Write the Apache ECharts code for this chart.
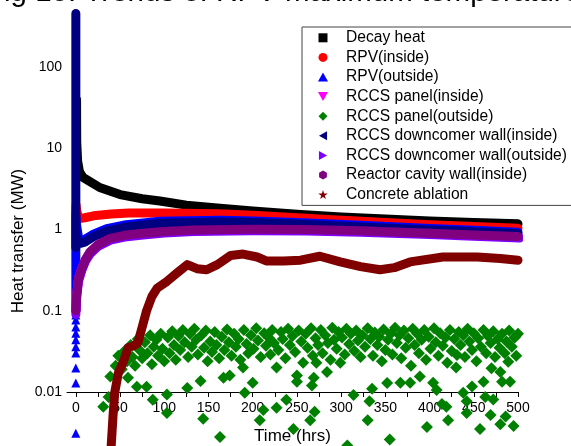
<!DOCTYPE html>
<html>
<head>
<meta charset="utf-8">
<script src="https://cdn.jsdelivr.net/npm/echarts@6/dist/echarts.min.js"></script>
<style>
  html, body { margin: 0; padding: 0; background: #fff; }
  #main { width: 571px; height: 446px; }
</style>
</head>
<body>
<div id="main"></div>
<script>
// [time (hrs), heat transfer (MW)]
let decayHeat = [[0.8,40],[1,12],[2,7],[4,5.2],[8,4.4],[16,3.9],[27,3.3],[50,2.7],[75,2.4],[95,2.25],[125,2.0],[163,1.83],[200,1.7],[250,1.55],[300,1.43],[350,1.35],[400,1.28],[450,1.22],[500,1.18]];
let rpvInside = [[0,1.6],[0.3,2.0],[1,1.7],[3,1.4],[6,1.38],[10,1.4],[20,1.48],[40,1.56],[60,1.6],[100,1.6],[160,1.57],[200,1.5],[250,1.4],[300,1.3],[350,1.22],[400,1.15],[450,1.09],[500,1.04]];
let rpvOutside = [[0,0.1],[0,1.5],[1,1.1],[3,0.8],[6,0.74],[10,0.76],[20,0.88],[35,1.03],[57,1.15],[95,1.27],[163,1.3],[200,1.28],[250,1.22],[322,1.13],[400,1.03],[450,0.98],[500,0.93]];
let rpvOutsideLow = [[0,0.0031],[0,0.0129],[0,0.0197],[0,0.0302],[0,0.036],[0,0.044],[0,0.053],[0,0.063],[0,0.077],[0,0.089]];
let panelInside = [[0,0.1],[1,0.16],[3,0.25],[7,0.34],[11,0.43],[16,0.53],[25,0.65],[39,0.78],[55,0.85],[76,0.9],[100,0.95],[133,0.99],[200,1.01],[260,1.0],[322,0.97],[400,0.9],[450,0.86],[500,0.82]];
let panelOutside = [[31,0.0066],[37,0.0087],[39,0.0155],[45,0.021],[48,0.028],[52,0.019],[55,0.032],[58,0.024],[59,0.015],[62,0.038],[64,0.027],[67,0.021],[69,0.0116],[70,0.045],[72,0.033],[75,0.026],[78,0.041],[80,0.0116],[81,0.03],[84,0.05],[86,0.022],[87,0.008],[88,0.036],[91,0.044],[93,0.028],[96,0.052],[98,0.034],[100,0.024],[103,0.0093],[103,0.0055],[104,0.047],[106,0.03],[109,0.056],[111,0.038],[113,0.025],[116,0.049],[118,0.033],[121,0.058],[123,0.041],[126,0.0112],[127,0.027],[129,0.052],[131,0.036],[134,0.06],[136,0.044],[138,0.029],[141,0.0137],[142,0.05],[144,0.0047],[145,0.035],[147,0.057],[149,0.024],[152,0.042],[154,0.031],[157,0.055],[159,0.038],[162,0.026],[163,0.0028],[165,0.048],[167,0.015],[168,0.033],[171,0.059],[173,0.041],[174,0.016],[176,0.028],[179,0.052],[181,0.036],[184,0.045],[186,0.025],[189,0.02],[190,0.058],[191,0.0098],[193,0.039],[195,0.03],[198,0.05],[200,0.013],[201,0.034],[204,0.061],[206,0.043],[208,0.0045],[209,0.027],[212,0.006],[213,0.053],[215,0.037],[218,0.047],[220,0.029],[222,0.058],[224,0.04],[227,0.02],[227,0.0064],[229,0.033],[232,0.055],[234,0.045],[237,0.026],[238,0.008],[240,0.06],[242,0.038],[245,0.049],[246,0.0035],[248,0.031],[250,0.0134],[250,0.016],[252,0.057],[255,0.042],[257,0.023],[260,0.052],[262,0.035],[265,0.0045],[266,0.061],[267,0.012],[268,0.028],[269,0.015],[270,0.0057],[271,0.046],[272,0.023],[274,0.038],[277,0.058],[279,0.03],[282,0.05],[284,0.0176],[285,0.04],[288,0.025],[290,0.062],[292,0.044],[295,0.034],[297,0.055],[299,0.023],[301,0.047],[304,0.029],[306,0.06],[307,0.0022],[309,0.039],[311,0.052],[314,0.0092],[315,0.032],[317,0.057],[319,0.043],[322,0.027],[324,0.05],[327,0.036],[330,0.0045],[330,0.061],[332,0.0077],[333,0.045],[335,0.011],[336,0.028],[338,0.054],[341,0.038],[343,0.048],[346,0.024],[348,0.059],[350,0.033],[352,0.0129],[353,0.044],[355,0.0026],[356,0.052],[358,0.029],[361,0.062],[363,0.04],[366,0.05],[367,0.013],[368,0.026],[371,0.057],[373,0.035],[376,0.046],[378,0.013],[379,0.021],[381,0.06],[383,0.038],[386,0.052],[388,0.03],[389,0.0155],[391,0.044],[394,0.058],[396,0.025],[397,0.0037],[399,0.048],[401,0.034],[404,0.013],[405,0.061],[407,0.041],[408,0.0106],[410,0.028],[412,0.053],[414,0.0071],[415,0.037],[418,0.047],[419,0.0066],[420,0.023],[421,0.0045],[423,0.058],[425,0.032],[428,0.045],[430,0.02],[431,0.0286],[433,0.055],[435,0.038],[438,0.0098],[438,0.05],[440,0.027],[442,0.0077],[442,0.0055],[443,0.06],[445,0.042],[448,0.0117],[448,0.033],[450,0.053],[453,0.024],[455,0.046],[457,0.0035],[458,0.036],[461,0.0134],[461,0.058],[463,0.0087],[464,0.03],[466,0.049],[469,0.0052],[469,0.04],[470,0.0196],[472,0.0081],[472,0.056],[474,0.027],[477,0.045],[479,0.035],[480,0.0176],[480,0.004],[482,0.0134],[482,0.052],[485,0.03],[486,0.005],[487,0.042],[489,0.0235],[490,0.057],[491,0.0134],[493,0.036],[495,0.0038],[496,0.047],[497,0.048],[498,0.028],[500,0.052]];
let downcomerInside = [[0,460],[0,0.6],[1,0.8],[3,0.72],[6,0.68],[10,0.7],[20,0.82],[35,0.96],[57,1.08],[95,1.2],[163,1.24],[200,1.22],[250,1.17],[322,1.08],[400,0.99],[450,0.94],[500,0.89]];
let downcomerOutside = [[0,0.09],[1,0.15],[3,0.23],[7,0.32],[11,0.41],[16,0.5],[25,0.62],[39,0.74],[55,0.81],[76,0.86],[100,0.91],[133,0.95],[200,0.97],[260,0.96],[322,0.93],[400,0.87],[450,0.83],[502,0.79]];
let cavityWall = [[0,0.1],[1,0.16],[3,0.25],[7,0.34],[11,0.43],[16,0.53],[25,0.65],[39,0.78],[55,0.85],[76,0.9],[100,0.95],[133,0.99],[200,1.01],[260,1.0],[322,0.97],[400,0.9],[450,0.86],[500,0.82]];
let concreteAblation = [[40,0.0022],[42,0.005],[44,0.0099],[48,0.017],[54,0.024],[59,0.035],[65,0.037],[70,0.04],[75,0.063],[80,0.1],[86,0.15],[92,0.19],[103,0.23],[114,0.29],[126,0.37],[137,0.33],[148,0.32],[160,0.37],[175,0.48],[189,0.5],[205,0.46],[216,0.41],[235,0.41],[254,0.42],[276,0.47],[299,0.4],[322,0.35],[344,0.32],[360,0.34],[378,0.4],[415,0.46],[454,0.46],[480,0.44],[500,0.42]];

let xTicks = [0,25,50,75,100,125,150,175,200,225,250,275,300,325,350,375,400,425,450,475,500];
let xLabels = [0,50,100,150,200,250,300,350,400,450,500];

const FONT = "'Liberation Sans', Arial, sans-serif";
// all legend icons as paths so they keep a square aspect
const icons = {
  square: "path://M0,0 L10,0 L10,10 L0,10 Z",
  up: "path://M5,0 L10,9 L0,9 Z",
  down: "path://M0,0 L10,0 L5,9 Z",
  diamond: "path://M5,0 L10,5 L5,10 L0,5 Z",
  left: "path://M10,0 L10,10 L1,5 Z",
  right: "path://M0,0 L0,10 L9,5 Z",
  hex: "path://M5,0 L9.33,2.5 L9.33,7.5 L5,10 L0.67,7.5 L0.67,2.5 Z",
  star: "path://M5,0 L6.2,3.6 L10,3.6 L6.9,5.9 L8.1,9.5 L5,7.3 L1.9,9.5 L3.1,5.9 L0,3.6 L3.8,3.6 Z"
};

function band(name, data, color, width) {
  return {
    name: name,
    type: "line",
    data: data,
    showSymbol: false,
    clip: false,
    lineStyle: { color: color, width: width || 9, join: "round", cap: "round" },
    itemStyle: { color: color }
  };
}

let mycharts = echarts.init(document.getElementById("main"));
let option = {
  animation: false,
  backgroundColor: "#fff",
  textStyle: { fontFamily: FONT },
  grid: { left: 67, right: 53, top: -14, bottom: 54, containLabel: false, outerBoundsMode: "none" },
  legend: {
    left: 302,
    top: 27,
    orient: "vertical",
    padding: [1, 20, 1, 16],
    itemGap: 0,
    itemWidth: 36,
    itemHeight: 9,
    symbolKeepAspect: true,
    borderColor: "#444",
    borderWidth: 1,
    textStyle: { fontFamily: FONT, fontSize: 15.6, color: "#000", lineHeight: 19.6 },
    data: [
      { name: "Decay heat", icon: icons.square },
      { name: "RPV(inside)", icon: "circle" },
      { name: "RPV(outside)", icon: icons.up },
      { name: "RCCS panel(inside)", icon: icons.down },
      { name: "RCCS panel(outside)", icon: icons.diamond },
      { name: "RCCS downcomer wall(inside)", icon: icons.left },
      { name: "RCCS downcomer wall(outside)", icon: icons.right },
      { name: "Reactor cavity wall(inside)", icon: icons.hex },
      { name: "Concrete ablation", icon: icons.star }
    ]
  },
  xAxis: {
    type: "value",
    min: -10,
    max: 500,
    name: "Time (hrs)",
    nameLocation: "middle",
    nameGap: 36,
    nameTextStyle: { fontFamily: FONT, fontSize: 17, color: "#000" },
    axisLine: { lineStyle: { color: "#000", width: 1 } },
    axisTick: { inside: false, length: 5, customValues: xTicks, lineStyle: { color: "#000" } },
    axisLabel: { customValues: xLabels, fontSize: 14, color: "#000", margin: 9 },
    splitLine: { show: false }
  },
  yAxis: {
    type: "log",
    logBase: 10,
    min: 0.01,
    max: 1000,
    axisLine: { show: false },
    axisTick: { show: true, inside: true, length: 4, lineStyle: { color: "#000" } },
    axisLabel: {
      fontSize: 14,
      color: "#000",
      margin: 5,
      formatter: function(v) {
        return String(v);
      }
    },
    splitLine: { show: false }
  },
  graphic: [
    {
      type: "text",
      left: -14,
      top: -22,
      style: { text: "Fig 10. Trends of RPV maximum temperature", font: "29.5px " + FONT, fill: "#000" }
    },
    {
      type: "text",
      x: 18,
      y: 241,
      rotation: Math.PI / 2,
      style: { text: "Heat transfer (MW)", font: "17px " + FONT, fill: "#000", align: "center", verticalAlign: "middle" }
    }
  ],
  series: [
    band("Decay heat", decayHeat, "#000000"),
    band("RPV(inside)", rpvInside, "#ff0000"),
    band("RPV(outside)", rpvOutside, "#0000ff"),
    {
      name: "RPV(outside)",
      type: "scatter",
      data: rpvOutsideLow,
      symbol: "triangle",
      symbolSize: 9,
      clip: false,
      itemStyle: { color: "#0000ff", opacity: 1 }
    },
    band("RCCS panel(inside)", panelInside, "#ff00ff"),
    {
      name: "RCCS panel(outside)",
      type: "scatter",
      data: panelOutside,
      symbol: "diamond",
      symbolSize: 12,
      clip: false,
      itemStyle: { color: "#008000", opacity: 1 }
    },
    band("RCCS downcomer wall(inside)", downcomerInside, "#000080"),
    band("RCCS downcomer wall(outside)", downcomerOutside, "#8000ff"),
    band("Reactor cavity wall(inside)", cavityWall, "#800080"),
    band("Concrete ablation", concreteAblation, "#800000")
  ]
};
mycharts.setOption(option);
</script>
</body>
</html>
